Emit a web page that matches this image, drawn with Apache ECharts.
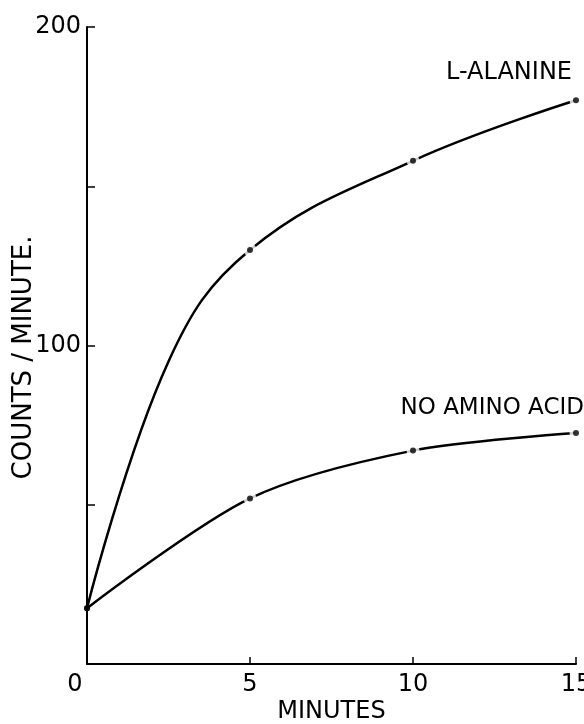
<!DOCTYPE html>
<html>
<head>
<meta charset="utf-8">
<script src="https://cdn.jsdelivr.net/npm/echarts@6/dist/echarts.min.js"></script>
<style>
  html, body { margin: 0; padding: 0; background: #fff; }
  #main { width: 584px; height: 724px; }
</style>
</head>
<body>
<div id="main"></div>
<script>
// measured points (the dots)
var minutes = [0, 5, 10, 15];
var alanine = [17.5, 130, 158, 177];
var noAminoAcid = [17.5, 52, 67, 72.5];

// the hand drawn L-alanine curve
var alanineCurveX = [0, 2.5, 5, 10, 15];
var alanineCurveY = [17.5, 95, 130, 158, 177];

var yLabelled = [100, 200];

function pairs(xs, ys) {
	var out = [];
	for (var i = 0; i < xs.length; i++) {
		out.push([xs[i], ys[i]]);
	}
	return out;
}

var FONT = 'DejaVu Sans';

function curve(name, xs, ys, smooth) {
	return {
		name: name,
		type: 'line',
		data: pairs(xs, ys),
		smooth: smooth,
		showSymbol: false,
		lineStyle: { color: '#000', width: 2.5 },
		z: 2
	};
}

// white halo under each dot leaves the small gap in the line
function halos(ys) {
	return {
		type: 'scatter',
		data: pairs(minutes, ys),
		symbolSize: function (v, p) { return p.dataIndex === 0 ? 0 : 13; },
		itemStyle: { color: '#fff' },
		z: 3
	};
}

function dots(ys) {
	return {
		type: 'scatter',
		data: pairs(minutes, ys),
		symbolSize: 6,
		itemStyle: { color: '#000' },
		z: 4
	};
}

var option = {
	backgroundColor: '#fff',
	animation: false,
	grid: { left: 87, right: 8, top: 27, bottom: 60, containLabel: false, outerBoundsMode: 'none' },
	xAxis: {
		type: 'value',
		min: 0,
		max: 15,
		interval: 5,
		name: 'MINUTES',
		nameLocation: 'middle',
		nameGap: 36,
		nameMoveOverlap: false,
		nameTextStyle: { fontFamily: FONT, fontSize: 24, color: '#000' },
		axisLine: { lineStyle: { color: '#000', width: 2 } },
		axisTick: { inside: true, length: 7, lineStyle: { color: '#000', width: 1.5 } },
		axisLabel: {
			margin: 9,
			fontFamily: FONT,
			fontSize: 24,
			color: '#000',
			formatter: function (v) { return v === 0 ? '{z|0}' : String(v); },
			rich: { z: { fontFamily: FONT, fontSize: 24, color: '#000', padding: [0, 24, 0, 0] } }
		},
		splitLine: { show: false }
	},
	yAxis: {
		type: 'value',
		min: 0,
		max: 200,
		interval: 50,
		name: 'COUNTS / MINUTE.',
		nameLocation: 'middle',
		nameGap: 50,
		nameMoveOverlap: false,
		nameTextStyle: { fontFamily: FONT, fontSize: 26, color: '#000', padding: [0, 24, 0, 0] },
		axisLine: { show: true, lineStyle: { color: '#000', width: 2 } },
		axisTick: { inside: true, length: 8, lineStyle: { color: '#000', width: 1.5 } },
		axisLabel: {
			margin: 6,
			fontFamily: FONT,
			fontSize: 24,
			color: '#000',
			formatter: function (v) { return yLabelled.indexOf(v) >= 0 ? String(v) : ''; }
		},
		splitLine: { show: false }
	},
	graphic: [
		{
			type: 'text',
			right: 12,
			top: 61,
			style: { text: 'L-ALANINE', font: '24px "DejaVu Sans"', fill: '#000' }
		},
		{
			type: 'text',
			right: 0,
			top: 397,
			style: { text: 'NO AMINO ACID', font: '23px "DejaVu Sans"', fill: '#000' }
		}
	],
	series: [
		curve('L-ALANINE', alanineCurveX, alanineCurveY, 0.4),
		curve('NO AMINO ACID', minutes, noAminoAcid, 0.3),
		halos(alanine),
		halos(noAminoAcid),
		dots(alanine),
		dots(noAminoAcid)
	]
};

var myChart = echarts.init(document.getElementById('main'));
myChart.setOption(option);
</script>
</body>
</html>
